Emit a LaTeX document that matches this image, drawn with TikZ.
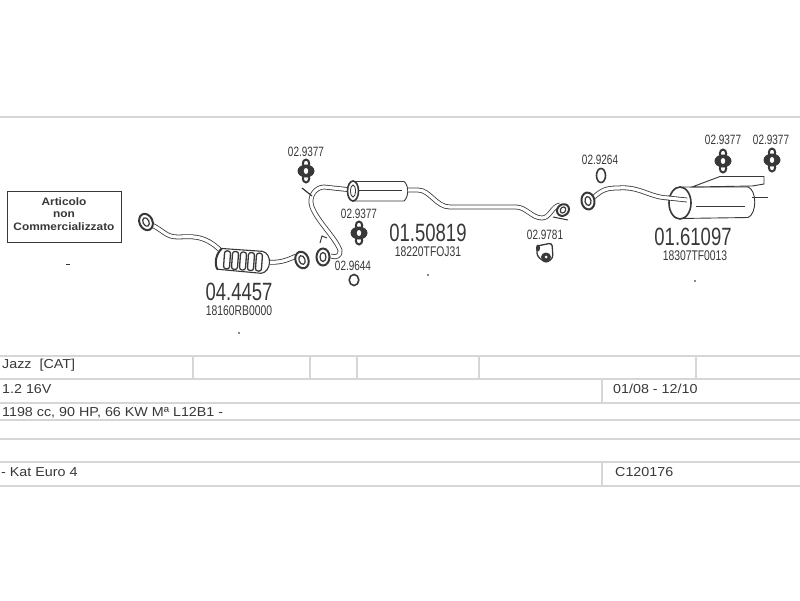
\documentclass[tikz,border=0pt]{standalone}
\usepackage{fontspec}
\setmainfont{Liberation Sans}
\newfontfamily\narrowfont[FakeStretch=0.74]{Liberation Sans}
\newfontfamily\widefont[FakeStretch=1.1]{Liberation Sans}
\usetikzlibrary{positioning}
\definecolor{ink}{rgb}{0.22,0.22,0.22}
\definecolor{rule}{rgb}{0.84,0.84,0.84}

\tikzset{
    pipe/.style = {draw = ink, double = white, double distance = 3.2pt, line width = .8pt, line join = round},
    part/.style = {draw = ink, fill = white, line width = .9pt},
    rubber/.style = {draw = ink, fill = white, line width = 2pt},
    smalllabel/.style = {inner sep = 0pt, text = ink, font = \narrowfont\fontsize{13.5}{14}\selectfont},
    biglabel/.style = {inner sep = 0pt, text = ink, font = \narrowfont\fontsize{25}{25}\selectfont},
    codelabel/.style = {inner sep = 0pt, text = ink, font = \narrowfont\fontsize{14}{14}\selectfont},
    rowtext/.style = {inner sep = 0pt, anchor = west, text = ink, font = \widefont\fontsize{13}{13}\selectfont},
    boxtext/.style = {inner sep = 0pt, text = ink, font = \widefont\bfseries\fontsize{10.8}{11}\selectfont},
    heavyrule/.style = {draw = rule, line width = 1.8pt},
    lightrule/.style = {draw = rule, line width = 1.2pt},
    hanger/.pic = {
        \draw[rubber] (0,-7.5) ellipse (3.2 and 4);
        \draw[rubber] (0,7.5) ellipse (3.2 and 4);
        \fill[ink] (0,0) ellipse (8.5 and 6.5);
        \fill[white] (0,0) ellipse (2.2 and 3);
    },
    flange/.pic = {
        \draw[part, line width = 2pt] (0,0) ellipse (6.5 and 8.5);
        \draw[part, line width = 1.2pt] (0,0) ellipse (3 and 4.5);
    }
}

\begin{document}
\begin{tikzpicture}[
            x = 1pt,
            y = -1pt,
            node distance = 19pt
        ]

        \useasboundingbox (0,0) rectangle (800,600);

        % frame of the drawing
        \draw[lightrule] (0,117) -- (800,117);

        % box on the left
        \draw[draw = ink, line width = .8pt] (7,191) rectangle (121,242);
        \node[boxtext] (AR) at (64,202) {Articolo};
        \node[boxtext] (NO) at (64,215) {non};
        \node[boxtext] (CO) at (64,227) {Commercializzato};

        % front pipe with converter
        \draw[pipe] (152,225) .. controls (164,231) and (166,237) .. (178,237)
            .. controls (188,237) and (204,233) .. (222,252);
        \draw[pipe] (268,262) .. controls (278,263) and (286,261) .. (296,256);
        \pic[rotate = 25] at (146,222) {flange};
        \pic[rotate = 20] at (302,260) {flange};
        \begin{scope}[shift = {(243,261)}, rotate = -4]
            \draw[part, line width = 1.1pt] (-22,-11) -- (19,-11) .. controls (29,-9) and (29,9) .. (19,11)
                -- (-25,10) .. controls (-29,4) and (-27,-6) .. (-22,-11) -- cycle;
            \draw[ink, line width = 2pt] (-25,10) .. controls (-29,4) and (-27,-6) .. (-22,-11);
            \foreach \pos in {-16,-8,0,8,16}
                \draw[ink, line width = 1.3pt, rounded corners = 2.5pt] (\pos-3,-9) rectangle (\pos+3,9);
        \end{scope}

        \node[biglabel] (A) at (239,292) {04.4457};
        \node[codelabel] (A1) [below of = A] {18160RB0000};

        % centre pipe with silencer
        \draw[pipe] (352,190) -- (324,187) .. controls (316,187) and (308,196) .. (312,207)
            .. controls (318,222) and (334,236) .. (340,250) .. controls (341,256) and (336,258) .. (331,256);
        \draw[ink, line width = 1.2pt] (302,188) -- (312,196);
        \draw[ink, line width = 1pt] (320,243) -- (322,236) -- (327,238);
        \pic at (323,257) {flange};
        \draw[part] (353,181.5) -- (404,181.5) .. controls (409,185) and (409,197) .. (404,201)
            -- (353,201) -- cycle;
        \draw[part, line width = 1.6pt] (353,191) ellipse (5.5 and 10);
        \draw[ink, line width = .8pt] (353,191) ellipse (2.5 and 6);
        \draw[ink, line width = .8pt] (359,190) -- (402,190);
        \draw[pipe] (408,190) -- (418,190) .. controls (430,190) and (436,207) .. (450,207)
            -- (516,207) .. controls (526,207) and (532,218) .. (542,218)
            .. controls (550,218) and (552,206) .. (560,205);
        \draw[ink, line width = 1pt] (553,217) -- (568,220);
        \pic[xscale = .9, yscale = .7, rotate = -15] at (563,210) {flange};

        \node[biglabel] (B) at (428,233) {01.50819};
        \node[codelabel] (B1) [below of = B] {18220TFOJ31};

        % rear pipe with silencer
        \draw[pipe] (594,197) .. controls (602,190) and (606,188) .. (618,188)
            .. controls (640,186) and (650,198) .. (670,198);
        \draw[part] (680,187) -- (748,187) .. controls (757,190) and (757,214) .. (748,217.5)
            -- (680,218.5) -- cycle;
        \draw[part, line width = 1.6pt] (680,203) ellipse (11 and 16);
        \draw[pipe] (668,198) -- (687,200);
        \draw[ink, line width = .8pt] (696,206) -- (745,206);
        \draw[part] (692,187) -- (720,176.5) -- (764,176.5) -- (764,184) -- (752,186) -- cycle;
        \draw[ink, line width = 1pt] (752,197) -- (768,197);
        \pic[rotate = 10] at (588,201) {flange};

        \node[biglabel] (C) at (693,237) {01.61097};
        \node[codelabel] (C1) [below of = C, xshift = 2pt] {18307TF0013};

        % small parts and their numbers
        \node[smalllabel] (H1) at (306,152) {02.9377};
        \pic at (306,171) {hanger};
        \node[smalllabel] (H2) at (359,214) {02.9377};
        \pic at (359,233) {hanger};
        \node[smalllabel] (H3) at (723,140) {02.9377};
        \pic at (723,161) {hanger};
        \node[smalllabel] (H4) at (771,140) {02.9377};
        \pic at (772,160) {hanger};

        \node[smalllabel] (R1) at (353,266) {02.9644};
        \draw[ink, line width = 1.6pt] (354,280) ellipse (4.8 and 5.5);
        \node[smalllabel] (R2) at (600,160) {02.9264};
        \draw[ink, line width = 1.6pt] (601,175.5) ellipse (4.5 and 7);

        \node[smalllabel] (M1) at (545,235) {02.9781};
        \draw[part, line width = 1.3pt, rounded corners = 3pt] (537,246) -- (552,243) -- (553,258) -- (546,263)
            -- (537,256) -- cycle;
        \fill[ink] (546,257) ellipse (5 and 4.5);
        \fill[white] (546,257) circle (1.5);
        \fill[ink] (538,248) ellipse (2 and 3.5);

        % specks
        \fill[ink] (66,263.5) rectangle (70,264.5);
        \fill[ink!60] (238,332) rectangle (240,334);
        \fill[ink!60] (427,274) rectangle (429,276);
        \fill[ink!60] (694,280) rectangle (696,282);

        % table
        \draw[heavyrule] (0,356) -- (800,356);
        \draw[lightrule] (0,379) -- (800,379);
        \draw[heavyrule] (0,403) -- (800,403);
        \draw[heavyrule] (0,420) -- (800,420);
        \draw[lightrule] (0,439) -- (800,439);
        \draw[heavyrule] (0,462) -- (800,462);
        \draw[heavyrule] (0,486) -- (800,486);

        \draw[lightrule] (193,356) -- (193,379);
        \draw[lightrule] (310,356) -- (310,379);
        \draw[lightrule] (357,356) -- (357,379);
        \draw[lightrule] (479,356) -- (479,379);
        \draw[lightrule] (696,356) -- (696,379);
        \draw[lightrule] (602,379) -- (602,403);
        \draw[lightrule] (602,462) -- (602,486);

        \node[rowtext] (T1) at (2,365) {Jazz\ \ [CAT]};
        \node[rowtext] (T2) at (2,389) {1.2 16V};
        \node[rowtext] (T3) at (2,413) {1198 cc, 90 HP, 66 KW M\textordfeminine\ L12B1 -};
        \node[rowtext] (T4) at (1,472) {- Kat Euro 4};
        \node[rowtext] (T5) at (613,389) {01/08 - 12/10};
        \node[rowtext] (T6) at (615,472) {C120176};

\end{tikzpicture}
\end{document}
